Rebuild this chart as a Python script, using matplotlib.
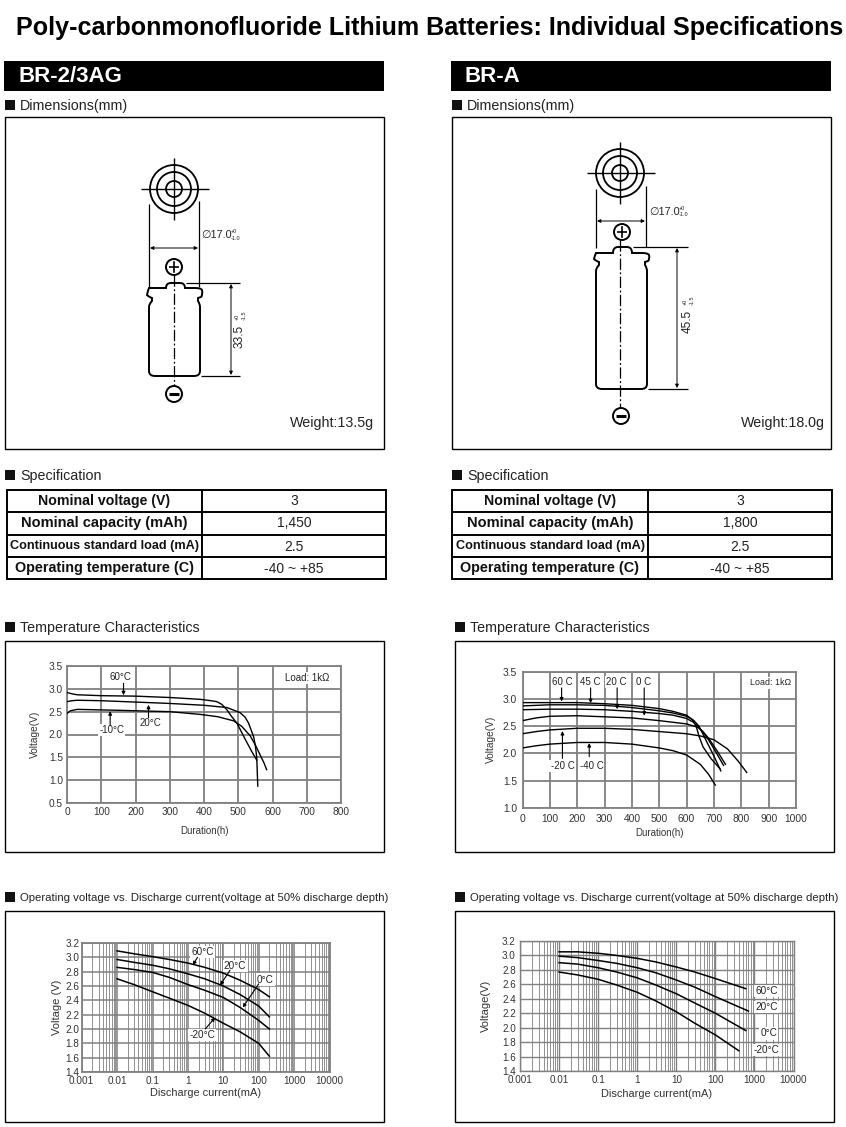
import numpy as np
import matplotlib
matplotlib.use("Agg")
import matplotlib.pyplot as plt
from matplotlib.path import Path
from matplotlib.patches import PathPatch, Circle, Rectangle
from matplotlib.ticker import FixedLocator, NullFormatter, LogLocator

plt.rcParams['font.family'] = ['Liberation Sans', 'DejaVu Sans']
plt.rcParams['lines.solid_joinstyle'] = 'round'

# ---------- data ----------
TITLE = "Poly-carbonmonofluoride Lithium Batteries: Individual Specifications"
MODELS = ["BR-2/3AG", "BR-A"]
WEIGHTS = ["Weight:13.5g", "Weight:18.0g"]
SPEC_NAMES = ["Nominal voltage (V)", "Nominal capacity (mAh)",
              "Continuous standard load (mA)", "Operating temperature (C)"]
SPEC_A = ["3", "1,450", "2.5", "-40 ~ +85"]
SPEC_B = ["3", "1,800", "2.5", "-40 ~ +85"]

T1_60_X = [0, 15, 30, 100, 200, 300, 389, 420, 437, 452, 467, 480, 496, 520, 540, 554]
T1_60_Y = [2.92, 2.89, 2.87, 2.85, 2.84, 2.81, 2.77, 2.74, 2.72, 2.66, 2.54, 2.40, 2.25, 1.90, 1.62, 1.44]
T1_20_X = [0, 15, 30, 100, 200, 300, 400, 467, 505, 520, 530, 540, 545, 550, 554, 557]
T1_20_Y = [2.72, 2.74, 2.75, 2.74, 2.71, 2.68, 2.64, 2.59, 2.48, 2.38, 2.25, 2.05, 1.95, 1.75, 1.50, 0.87]
T1_M10_X = [0, 10, 30, 150, 300, 389, 440, 486, 510, 535, 550, 564, 575, 583]
T1_M10_Y = [2.46, 2.52, 2.55, 2.53, 2.50, 2.44, 2.39, 2.30, 2.18, 1.97, 1.77, 1.55, 1.38, 1.23]

T2_60_X = [0, 100, 200, 300, 400, 500, 550, 600, 620, 635, 645, 660, 690, 722]
T2_60_Y = [2.93, 2.93, 2.93, 2.91, 2.88, 2.82, 2.77, 2.70, 2.62, 2.50, 2.32, 2.12, 1.90, 1.72]
T2_45_X = [0, 100, 200, 300, 400, 500, 550, 600, 625, 645, 670, 700, 725]
T2_45_Y = [2.87, 2.89, 2.89, 2.88, 2.84, 2.78, 2.74, 2.68, 2.61, 2.50, 2.25, 1.95, 1.68]
T2_20_X = [0, 100, 200, 300, 400, 500, 550, 600, 625, 650, 680, 710, 735]
T2_20_Y = [2.80, 2.81, 2.81, 2.80, 2.77, 2.73, 2.70, 2.64, 2.57, 2.45, 2.25, 2.00, 1.78]
T2_0_X = [0, 50, 100, 200, 300, 400, 500, 550, 600, 640, 660, 680, 715, 742]
T2_0_Y = [2.60, 2.65, 2.68, 2.69, 2.67, 2.65, 2.60, 2.57, 2.54, 2.48, 2.40, 2.28, 2.02, 1.80]
T2_M20_X = [0, 50, 100, 200, 300, 400, 500, 600, 650, 700, 750, 790, 820]
T2_M20_Y = [2.36, 2.40, 2.43, 2.46, 2.46, 2.44, 2.40, 2.36, 2.32, 2.25, 2.08, 1.85, 1.65]
T2_M40_X = [0, 50, 100, 200, 300, 400, 500, 550, 600, 650, 680, 705]
T2_M40_Y = [2.10, 2.14, 2.17, 2.20, 2.20, 2.17, 2.10, 2.05, 1.97, 1.80, 1.62, 1.42]

I_L = [0.01, 0.03, 0.1, 0.3, 1, 3, 10, 30, 100, 200]
V1_60 = [3.09, 3.05, 3.01, 2.97, 2.92, 2.86, 2.78, 2.68, 2.55, 2.45]
V1_20 = [2.97, 2.93, 2.89, 2.84, 2.77, 2.70, 2.60, 2.48, 2.32, 2.17]
V1_0 = [2.86, 2.83, 2.79, 2.72, 2.62, 2.54, 2.44, 2.30, 2.12, 2.00]
V1_M20 = [2.70, 2.62, 2.52, 2.43, 2.33, 2.22, 2.08, 1.96, 1.80, 1.62]

I_R60 = [0.01, 0.03, 0.1, 0.3, 1, 3, 10, 30, 100, 600]
V2_60 = [3.05, 3.05, 3.03, 3.00, 2.96, 2.91, 2.84, 2.77, 2.68, 2.54]
I_R20 = [0.01, 0.03, 0.1, 0.3, 1, 3, 10, 30, 100, 700]
V2_20 = [2.99, 2.97, 2.93, 2.89, 2.83, 2.76, 2.66, 2.56, 2.43, 2.23]
I_R0 = [0.01, 0.03, 0.1, 0.3, 1, 3, 10, 30, 100, 600]
V2_0 = [2.90, 2.88, 2.83, 2.77, 2.69, 2.59, 2.47, 2.34, 2.20, 1.96]
I_RM20 = [0.01, 0.03, 0.1, 0.3, 1, 3, 10, 30, 100, 400]
V2_M20 = [2.77, 2.73, 2.67, 2.59, 2.49, 2.37, 2.22, 2.06, 1.90, 1.68]

T1_YT = [0.5, 1.0, 1.5, 2.0, 2.5, 3.0, 3.5]
T1_XT = [0, 100, 200, 300, 400, 500, 600, 700, 800]
T2_YT = [1.0, 1.5, 2.0, 2.5, 3.0, 3.5]
T2_XT = [0, 100, 200, 300, 400, 500, 600, 700, 800, 900, 1000]
V_YT = [1.4, 1.6, 1.8, 2.0, 2.2, 2.4, 2.6, 2.8, 3.0, 3.2]
I_XT = [0.001, 0.01, 0.1, 1, 10, 100, 1000, 10000]
I_XL = ["0.001", "0.01", "0.1", "1", "10", "100", "1000", "10000"]

# ---------- page ----------
W, H = 846, 1127
fig = plt.figure(figsize=(W / 100, H / 100), dpi=100, facecolor='white')
pg = fig.add_axes([0, 0, 1, 1], zorder=5)
pg.set_xlim(0, W); pg.set_ylim(H, 0); pg.axis('off'); pg.patch.set_alpha(0)
TXT = '#222222'


def rect(x0, y0, x1, y1, fc='none', ec='black', lw=1.0):
    pg.add_patch(Rectangle((x0, y0), x1 - x0, y1 - y0, fc=fc, ec=ec, lw=lw))


def head(xs, xt, y, s, size=10.3):
    rect(xs, y - 5, xs + 10, y + 5, fc='#111111', ec='#111111', lw=0)
    pg.text(xt, y + 1, s, fontsize=size, va='center', ha='left', color=TXT)


def ln(xs, ys, lw=0.9, **k):
    pg.plot(xs, ys, color='black', lw=lw, solid_capstyle='butt', **k)


def arrow(x0, y0, x1, y1):
    pg.annotate('', xy=(x1, y1), xytext=(x0, y0),
                arrowprops=dict(arrowstyle='<|-|>', color='black', lw=0.7,
                                mutation_scale=5, shrinkA=0, shrinkB=0))


def battery(c, top_cy, plus_cy, minus_cy, plus_x, minus_x, L, R, tip_t, sh, gr, bot, t0, t1,
            dia_l_top, dia_r_top, dia_bot_l, dia_bot_r, dia_y, dia_tx, dia_ty,
            dim_x, dim_end, dim_start_t, dim_start_b, h_txt, h_tx, h_ty):
    for r, lw in ((24, 1.3), (17, 1.3), (8, 1.3)):
        pg.add_patch(Circle((c, top_cy), r, fc='none', ec='black', lw=lw))
    ln([c - 33, c + 35], [top_cy, top_cy], lw=1.0)
    ln([c, c], [top_cy - 31, top_cy + 31], lw=1.0)
    ln([L, L], [dia_l_top, dia_bot_l], lw=0.9)
    ln([R - 1, R - 1], [dia_r_top, dia_bot_r], lw=0.9)
    arrow(L + 1, dia_y, R - 2, dia_y)
    pg.text(dia_tx, dia_ty, "\u220517.0", fontsize=7.8, va='center', color=TXT)
    pg.text(dia_tx + 30, dia_ty - 3.5, "+0", fontsize=4, va='center', color=TXT)
    pg.text(dia_tx + 30, dia_ty + 3, "-1.0", fontsize=4, va='center', color=TXT)
    for cx, cy, minus, in ((plus_x, plus_cy, False), (minus_x, minus_cy, True)):
        pg.add_patch(Circle((cx, cy), 8, fc='white', ec='black', lw=1.4, zorder=4))
        pg.plot([cx - 5, cx + 5], [cy, cy], color='black', lw=2.2 if minus else 1.2, zorder=5,
                solid_capstyle='butt')
        if not minus:
            pg.plot([cx, cx], [cy - 5, cy + 5], color='black', lw=1.2, zorder=5)
    M, C = Path.MOVETO, Path.CURVE3
    P = Path.LINETO
    v = [(L, gr + 7), (L, gr + 4), (L + 3, gr + 1), (L + 3, gr - 2), (L, gr - 3), (L - 2, gr - 5), (L - 1, sh + 2),
         (L, sh), (L + 5, sh), (t0, sh), (t0, tip_t), (t0 + 5, tip_t), (t1 - 5, tip_t), (t1, tip_t), (t1, sh),
         (R - 5, sh), (R + 1, sh), (R + 2, sh + 2), (R + 3, gr - 5), (R + 1, gr - 3), (R - 2, gr - 2), (R - 2, gr + 1),
         (R, gr + 4), (R, gr + 7), (R, bot - 5), (R, bot), (R - 6, bot), (L + 6, bot), (L, bot), (L, bot - 5), (L, gr + 7)]
    cd = [M, C, C, P, C, C, C, C, C, P, C, C, P, C, C, P, C, C, C, C, P, P, C, C, P, C, C, P, C, C, P]
    pg.add_patch(PathPatch(Path(v, cd), fc='white', ec='black', lw=1.4, zorder=3))
    pg.plot([c, c], [plus_cy + 8, minus_cy - 8], color='black', lw=0.9, zorder=3.5,
            dashes=(9, 2, 1.5, 2))
    ln([t1 + 1, dim_end], [tip_t, tip_t], lw=0.9)
    ln([R + 1, dim_end], [bot, bot], lw=0.9)
    arrow(dim_x, dim_start_t, dim_x, dim_start_b)
    pg.text(h_tx, h_ty, h_txt, fontsize=8.6, rotation=90, ha='center', va='bottom', color=TXT)
    pg.text(h_tx - 3, h_ty - 28, "+0", fontsize=4, rotation=90, ha='center', va='bottom', color=TXT)
    pg.text(h_tx + 4, h_ty - 28, "-1.5", fontsize=4, rotation=90, ha='center', va='bottom', color=TXT)


def table(x0, xm, x1, vals):
    ys = [490, 512, 534.5, 557, 579]
    rect(x0, ys[0], x1, ys[-1], lw=1.4)
    ln([xm, xm], [ys[0], ys[-1]], lw=1.4)
    for y in ys[1:-1]:
        ln([x0, x1], [y, y], lw=1.4)
    sizes = [10.2, 10.5, 9.1, 10.4]
    for i, (n, v) in enumerate(zip(SPEC_NAMES, vals)):
        ym = (ys[i] + ys[i + 1]) / 2
        pg.text((x0 + xm) / 2, ym, n, fontsize=sizes[i], weight='bold', ha='center', va='center', color='#111111')
        pg.text((xm + x1) / 2, ym + (i > 1), v, fontsize=10, ha='center', va='center', color=TXT)


pg.text(429.5, 28.5, TITLE, fontsize=18.1, weight='bold', ha='center', va='center', color='black')
for x0, m, w, sp, xm, x1, xt0 in ((4, MODELS[0], WEIGHTS[0], SPEC_A, 202, 386, 7),
                                  (451, MODELS[1], WEIGHTS[1], SPEC_B, 648, 832, 452)):
    rect(x0, 61, x0 + 380, 91, fc='black', ec='black', lw=0)
    pg.text(x0 + 14, 77, m, fontsize=16, weight='bold', color='white', va='center')
    head(x0 + 1, x0 + 16, 105, "Dimensions(mm)")
    rect(x0 + 1, 117, x0 + 380, 449)
    pg.text(x0 + 370 if x0 < 100 else x0 + 374, 423, w, fontsize=10.3, ha='right', va='center', color=TXT)
    head(x0 + 1, x0 + 16, 475, "Specification")
    table(xt0, xm, x1, sp)

for xb in (5, 455):
    head(xb, xb + 15, 627, "Temperature Characteristics")
    rect(xb, 641, xb + 379, 852)
    head(xb, xb + 15, 897, "Operating voltage vs. Discharge current(voltage at 50% discharge depth)", size=8.17)
    rect(xb, 911, xb + 379, 1122)

battery(174, 189, 267, 394, 174, 174, 149, 200, 283, 288, 300, 376, 166, 185,
        204, 201, 287, 287, 248, 201, 235, 231, 240, 284, 375, "33.5", 240, 348)
battery(620, 173, 232, 416, 622, 621, 596, 647, 247, 253, 264, 389, 613, 632,
        189, 186, 248, 247, 221, 649, 212, 677, 688, 248, 388, "45.5", 688, 333)


# ---------- charts ----------
def axpx(l, t, r, b):
    return fig.add_axes([l / W, 1 - b / H, (r - l) / W, (b - t) / H], zorder=2)


GRID = '#808080'


def style(ax, xt, xl, yt, xlabel, ylabel, xpad, ypad, fs=7.3, lfs=7.0, ylfs=None, pad=3, xtpad=None):
    ax.set_xticks(xt); ax.set_xticklabels(xl)
    ax.set_yticks(yt); ax.set_yticklabels([f"{v:.1f}" for v in yt])
    ax.tick_params(which='both', length=0, labelsize=fs, labelcolor='#333333', pad=pad)
    if xtpad is not None:
        ax.tick_params(axis='x', which='both', pad=xtpad)
    ax.set_xlabel(xlabel, fontsize=lfs, labelpad=xpad, color='#333333')
    ax.set_ylabel(ylabel, fontsize=ylfs or lfs, labelpad=ypad, color='#333333')
    ax.set_axisbelow(True)
    for s in ax.spines.values():
        s.set_color(GRID)


def note(ax, s, x, y, fs=7.0):
    ax.text(x, y, s, fontsize=fs, ha='center', va='center', color='#222222', zorder=6,
            bbox=dict(fc='white', ec='none', pad=0.8))


def pointer(ax, x0, y0, x1, y1):
    ax.annotate('', xy=(x1, y1), xytext=(x0, y0), zorder=7,
                arrowprops=dict(arrowstyle='-|>', color='black', lw=0.8, mutation_scale=5,
                                shrinkA=0, shrinkB=0))


# temperature, left
a = axpx(67, 666, 341, 803)
a.set_xlim(0, 800); a.set_ylim(0.5, 3.5)
style(a, T1_XT, [str(v) for v in T1_XT], T1_YT, "Duration(h)", "Voltage(V)", 6, 6, ylfs=7.3)
a.grid(color=GRID, lw=1.3)
for s in a.spines.values():
    s.set_linewidth(1.3)
for x, y in ((T1_60_X, T1_60_Y), (T1_20_X, T1_20_Y), (T1_M10_X, T1_M10_Y)):
    a.plot(x, y, color='black', lw=1.0, zorder=4)
note(a, "60°C", 157, 3.27); note(a, "20°C", 243, 2.26); note(a, "-10°C", 131, 2.10)
note(a, "Load: 1kΩ", 700, 3.24)
pointer(a, 165, 3.12, 165, 2.86); pointer(a, 238, 2.37, 238, 2.65); pointer(a, 126, 2.20, 126, 2.51)

# temperature, right
b = axpx(522.5, 671.5, 796, 808)
b.set_xlim(0, 1000); b.set_ylim(1.0, 3.5)
style(b, T2_XT, [str(v) for v in T2_XT], T2_YT, "Duration(h)", "Voltage(V)", 3.5, 5, ylfs=7.3, fs=7.4, pad=4)
b.grid(color=GRID, lw=1.3)
for s in b.spines.values():
    s.set_linewidth(1.3)
for x, y in ((T2_60_X, T2_60_Y), (T2_45_X, T2_45_Y), (T2_20_X, T2_20_Y),
             (T2_0_X, T2_0_Y), (T2_M20_X, T2_M20_Y), (T2_M40_X, T2_M40_Y)):
    b.plot(x, y, color='black', lw=1.0, zorder=4)
for s, x in (("60 C", 144), ("45 C", 246), ("20 C", 344), ("0 C", 441)):
    note(b, s, x, 3.30, fs=7)
note(b, "-20 C", 146, 1.77, fs=7); note(b, "-40 C", 252, 1.77, fs=7)
note(b, "Load: 1kΩ", 908, 3.29, fs=6.4)
pointer(b, 143, 3.20, 143, 2.95); pointer(b, 249, 3.20, 249, 2.92)
pointer(b, 346, 3.20, 346, 2.81); pointer(b, 445, 3.20, 445, 2.69)
pointer(b, 146, 1.91, 146, 2.41); pointer(b, 244, 1.94, 244, 2.19)


def logaxes(rect_px):
    ax = axpx(*rect_px)
    ax.set_xscale('log')
    ax.set_xlim(0.001, 10000); ax.set_ylim(1.4, 3.2)
    ax.xaxis.set_minor_locator(LogLocator(base=10, subs=np.arange(2, 10), numticks=100))
    ax.xaxis.set_minor_formatter(NullFormatter())
    ax.xaxis.set_major_locator(FixedLocator(I_XT))
    return ax


# voltage vs current, left
c = logaxes((81.7, 943, 329.5, 1072))
style(c, I_XT, I_XL, V_YT, "Discharge current(mA)", "Voltage (V)", 1, 2.5, fs=7.2, lfs=7.9, ylfs=8.0, pad=1.5, xtpad=3)
c.grid(which='major', color=GRID, lw=1.1)
c.grid(which='minor', axis='x', color=GRID, lw=0.6)
for s in c.spines.values():
    s.set_linewidth(1.3)
for y in (V1_60, V1_20, V1_0, V1_M20):
    c.plot(I_L, y, color='black', lw=1.1, zorder=4)
note(c, "60°C", 10 ** 0.41, 3.07, fs=7.2); note(c, "20°C", 10 ** 1.335, 2.88, fs=7.2)
note(c, "0°C", 10 ** 2.18, 2.69, fs=7.2); note(c, "-20°C", 10 ** 0.41, 1.92, fs=7.2)
pointer(c, 10 ** 0.27, 3.00, 10 ** 0.14, 2.89)
pointer(c, 10 ** 1.19, 2.82, 10 ** 0.91, 2.61)
pointer(c, 10 ** 2.0, 2.63, 10 ** 1.55, 2.30)
pointer(c, 10 ** 0.49, 2.00, 10 ** 0.77, 2.16)

# voltage vs current, right
d = logaxes((520, 941, 793.5, 1071))
style(d, I_XT, I_XL, V_YT, "Discharge current(mA)", "Voltage(V)", 2.5, 8, fs=7.1, lfs=7.9, ylfs=8.0)
d.grid(which='major', color=GRID, lw=1.0)
d.grid(which='minor', axis='x', color=GRID, lw=0.6)
for s in d.spines.values():
    s.set_linewidth(1.0)
for x, y in ((I_R60, V2_60), (I_R20, V2_20), (I_R0, V2_0), (I_RM20, V2_M20)):
    d.plot(x, y, color='black', lw=1.1, zorder=4)
note(d, "60°C", 10 ** 3.31, 2.51, fs=7.2); note(d, "20°C", 10 ** 3.31, 2.29, fs=7.2)
note(d, "0°C", 10 ** 3.37, 1.92, fs=7.2); note(d, "-20°C", 10 ** 3.31, 1.69, fs=7.2)

fig.savefig("out.png", dpi=100, facecolor='white')
